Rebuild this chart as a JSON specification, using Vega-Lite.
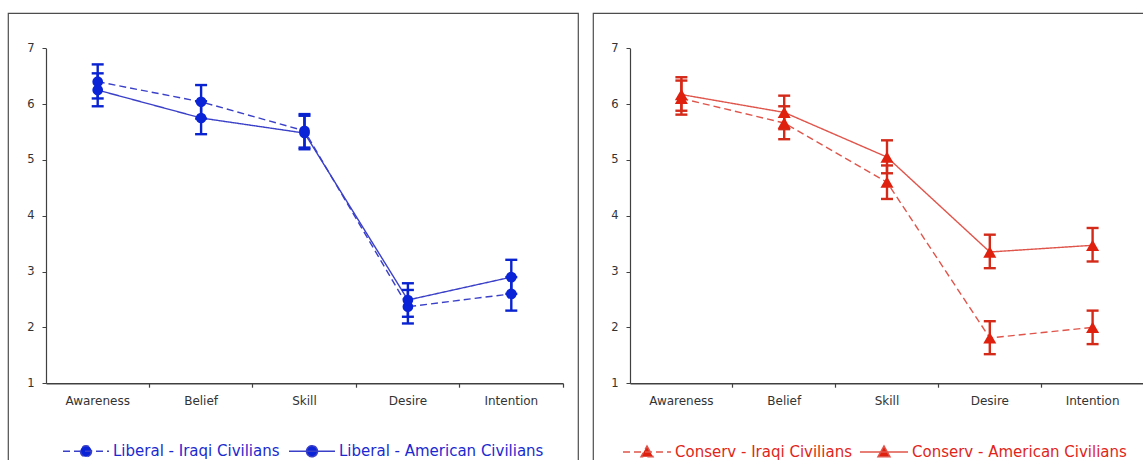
{
  "$schema": "https://vega.github.io/schema/vega-lite/v6.json",
  "padding": {"left": 7, "top": 12, "right": 0, "bottom": 0},
  "spacing": 13,
  "config": {
    "view": {"stroke": "#4d4d4d", "strokeWidth": 1.2},
    "font": "DejaVu Sans",
    "axisY": {"orient": "left", "title": null, "grid": false, "tickSize": 4, "tickColor": "#404040", "domainColor": "#404040", "domainWidth": 1.2, "labelFontSize": 11.5, "labelColor": "#333333", "labelPadding": 8, "labelFont": "DejaVu Sans", "format": "d"}
  },
  "resolve": {"scale": {"color": "independent", "strokeDash": "independent"}, "legend": {"color": "independent", "strokeDash": "independent"}},
  "hconcat": [
    {
      "width": 570,
      "height": 452,
      "data": {"values": [
        {"group": "Liberal - Iraqi Civilians", "category": "Awareness", "mean": 6.40, "lo": 6.10, "hi": 6.71},
        {"group": "Liberal - Iraqi Civilians", "category": "Belief", "mean": 6.04, "lo": 5.74, "hi": 6.34},
        {"group": "Liberal - Iraqi Civilians", "category": "Skill", "mean": 5.52, "lo": 5.22, "hi": 5.82},
        {"group": "Liberal - Iraqi Civilians", "category": "Desire", "mean": 2.37, "lo": 2.07, "hi": 2.67},
        {"group": "Liberal - Iraqi Civilians", "category": "Intention", "mean": 2.60, "lo": 2.30, "hi": 2.90},
        {"group": "Liberal - American Civilians", "category": "Awareness", "mean": 6.25, "lo": 5.96, "hi": 6.55},
        {"group": "Liberal - American Civilians", "category": "Belief", "mean": 5.75, "lo": 5.46, "hi": 6.05},
        {"group": "Liberal - American Civilians", "category": "Skill", "mean": 5.48, "lo": 5.19, "hi": 5.79},
        {"group": "Liberal - American Civilians", "category": "Desire", "mean": 2.49, "lo": 2.19, "hi": 2.79},
        {"group": "Liberal - American Civilians", "category": "Intention", "mean": 2.90, "lo": 2.60, "hi": 3.21}
      ]},
      "layer": [
        {
          "mark": {"type": "line", "strokeWidth": 1.4},
          "encoding": {
            "x": {"field": "category", "type": "nominal",
              "scale": {"domain": ["Awareness", "Belief", "Skill", "Desire", "Intention"], "range": [38, 555], "paddingInner": 0, "paddingOuter": 0},
              "axis": {"orient": "bottom", "offset": -81.8, "title": null, "ticks": false, "domain": false, "labelAngle": 0, "labelFontSize": 12, "labelColor": "#333333", "labelFont": "DejaVu Sans", "labelPadding": 12, "bandPosition": 0.5}},
            "y": {"field": "mean", "type": "quantitative",
              "scale": {"domain": [1, 7], "range": [370.2, 35.2], "nice": false, "zero": false},
              "axis": {"offset": -38, "values": [1, 2, 3, 4, 5, 6, 7]}},
            "color": {"field": "group", "type": "nominal",
              "scale": {"domain": ["Liberal - Iraqi Civilians", "Liberal - American Civilians"], "range": ["#3b40c8", "#3b40c8"]},
              "legend": {"orient": "none", "legendX": 54, "legendY": 414, "direction": "horizontal", "title": null,
                "symbolType": "M-1,0H1M0.239,0A0.239,0.239,0,1,1,-0.239,0A0.239,0.239,0,1,1,0.239,0Z",
                "symbolSize": 2116, "labelFontSize": 15, "labelFont": "DejaVu Sans", "labelColor": "#1a2ad0", "labelOffset": 3, "labelLimit": 400, "columnPadding": 6, "symbolStrokeWidth": 1.5,
                "encode": {"symbols": {"update": {
                  "fill": {"value": "#0a23d6"},
                  "stroke": {"value": "#2a33cc"},
                  "strokeDash": {"signal": "datum.value === 'Liberal - Iraqi Civilians' ? [6, 4] : [1, 0]"}
                }}}}},
            "strokeDash": {"field": "group", "type": "nominal",
              "scale": {"domain": ["Liberal - Iraqi Civilians", "Liberal - American Civilians"], "range": [[7, 4], [1, 0]]},
              "legend": null}
          }
        },
        {
          "mark": {"type": "rule", "strokeWidth": 2.4, "color": "#0a23d0", "opacity": 1},
          "encoding": {
            "x": {"field": "category", "type": "nominal", "axis": null},
            "y": {"field": "lo", "type": "quantitative", "axis": {"offset": -38, "values": [1, 2, 3, 4, 5, 6, 7]}},
            "y2": {"field": "hi"}
          }
        },
        {
          "mark": {"type": "tick", "size": 12, "thickness": 2.4, "color": "#0a23d0", "opacity": 1},
          "encoding": {
            "x": {"field": "category", "type": "nominal", "axis": null},
            "y": {"field": "lo", "type": "quantitative", "axis": {"offset": -38, "values": [1, 2, 3, 4, 5, 6, 7]}}
          }
        },
        {
          "mark": {"type": "tick", "size": 12, "thickness": 2.4, "color": "#0a23d0", "opacity": 1},
          "encoding": {
            "x": {"field": "category", "type": "nominal", "axis": null},
            "y": {"field": "hi", "type": "quantitative", "axis": {"offset": -38, "values": [1, 2, 3, 4, 5, 6, 7]}}
          }
        },
        {
          "mark": {"type": "point", "shape": "circle", "filled": true, "size": 115, "opacity": 1, "color": "#0a23d6"},
          "encoding": {
            "x": {"field": "category", "type": "nominal",
              "axis": {"orient": "bottom", "offset": -81.8, "title": null, "labels": false, "ticks": true, "tickSize": 4, "tickColor": "#404040", "tickWidth": 1.2, "domain": true, "domainColor": "#404040", "domainWidth": 1.6, "bandPosition": 1}},
            "y": {"field": "mean", "type": "quantitative", "axis": {"offset": -38, "values": [1, 2, 3, 4, 5, 6, 7]}}
          }
        }
      ],
      "resolve": {"axis": {"x": "independent"}}
    },
    {
      "width": 554,
      "height": 452,
      "data": {"values": [
        {"group": "Conserv - Iraqi Civilians", "category": "Awareness", "mean": 6.10, "lo": 5.81, "hi": 6.42},
        {"group": "Conserv - Iraqi Civilians", "category": "Belief", "mean": 5.66, "lo": 5.37, "hi": 5.96},
        {"group": "Conserv - Iraqi Civilians", "category": "Skill", "mean": 4.60, "lo": 4.30, "hi": 4.90},
        {"group": "Conserv - Iraqi Civilians", "category": "Desire", "mean": 1.81, "lo": 1.52, "hi": 2.11},
        {"group": "Conserv - Iraqi Civilians", "category": "Intention", "mean": 2.00, "lo": 1.70, "hi": 2.30},
        {"group": "Conserv - American Civilians", "category": "Awareness", "mean": 6.17, "lo": 5.88, "hi": 6.48},
        {"group": "Conserv - American Civilians", "category": "Belief", "mean": 5.85, "lo": 5.55, "hi": 6.15},
        {"group": "Conserv - American Civilians", "category": "Skill", "mean": 5.05, "lo": 4.76, "hi": 5.35},
        {"group": "Conserv - American Civilians", "category": "Desire", "mean": 3.35, "lo": 3.06, "hi": 3.66},
        {"group": "Conserv - American Civilians", "category": "Intention", "mean": 3.47, "lo": 3.18, "hi": 3.78}
      ]},
      "layer": [
        {
          "mark": {"type": "line", "strokeWidth": 1.4},
          "encoding": {
            "x": {"field": "category", "type": "nominal",
              "scale": {"domain": ["Awareness", "Belief", "Skill", "Desire", "Intention"], "range": [37, 551], "paddingInner": 0, "paddingOuter": 0},
              "axis": {"orient": "bottom", "offset": -81.8, "title": null, "ticks": false, "domain": false, "labelAngle": 0, "labelFontSize": 12, "labelColor": "#333333", "labelFont": "DejaVu Sans", "labelPadding": 12, "bandPosition": 0.5}},
            "y": {"field": "mean", "type": "quantitative",
              "scale": {"domain": [1, 7], "range": [370.2, 35.2], "nice": false, "zero": false},
              "axis": {"offset": -37, "values": [1, 2, 3, 4, 5, 6, 7]}},
            "color": {"field": "group", "type": "nominal",
              "scale": {"domain": ["Conserv - Iraqi Civilians", "Conserv - American Civilians"], "range": ["#e0554b", "#e0554b"]},
              "legend": {"orient": "none", "legendX": 29, "legendY": 414, "direction": "horizontal", "title": null,
                "symbolType": "M-1,0H1M0,-0.25L0.25,0.2L-0.25,0.2Z",
                "symbolSize": 2304, "labelFontSize": 15, "labelFont": "DejaVu Sans", "labelColor": "#e0261a", "labelOffset": 3, "labelLimit": 400, "columnPadding": 5, "symbolStrokeWidth": 1.5,
                "encode": {"symbols": {"update": {
                  "fill": {"value": "#e0200e"},
                  "stroke": {"value": "#e03a2a"},
                  "strokeDash": {"signal": "datum.value === 'Conserv - Iraqi Civilians' ? [6, 4] : [1, 0]"}
                }}}}},
            "strokeDash": {"field": "group", "type": "nominal",
              "scale": {"domain": ["Conserv - Iraqi Civilians", "Conserv - American Civilians"], "range": [[7, 4], [1, 0]]},
              "legend": null}
          }
        },
        {
          "mark": {"type": "rule", "strokeWidth": 2.4, "color": "#d42a1a", "opacity": 1},
          "encoding": {
            "x": {"field": "category", "type": "nominal", "axis": null},
            "y": {"field": "lo", "type": "quantitative", "axis": {"offset": -37, "values": [1, 2, 3, 4, 5, 6, 7]}},
            "y2": {"field": "hi"}
          }
        },
        {
          "mark": {"type": "tick", "size": 12, "thickness": 2.4, "color": "#d42a1a", "opacity": 1},
          "encoding": {
            "x": {"field": "category", "type": "nominal", "axis": null},
            "y": {"field": "lo", "type": "quantitative", "axis": {"offset": -37, "values": [1, 2, 3, 4, 5, 6, 7]}}
          }
        },
        {
          "mark": {"type": "tick", "size": 12, "thickness": 2.4, "color": "#d42a1a", "opacity": 1},
          "encoding": {
            "x": {"field": "category", "type": "nominal", "axis": null},
            "y": {"field": "hi", "type": "quantitative", "axis": {"offset": -37, "values": [1, 2, 3, 4, 5, 6, 7]}}
          }
        },
        {
          "mark": {"type": "point", "shape": "triangle-up", "filled": true, "size": 170, "opacity": 1, "color": "#e0200e"},
          "encoding": {
            "x": {"field": "category", "type": "nominal",
              "axis": {"orient": "bottom", "offset": -81.8, "title": null, "labels": false, "ticks": true, "tickSize": 4, "tickColor": "#404040", "tickWidth": 1.2, "domain": true, "domainColor": "#404040", "domainWidth": 1.6, "bandPosition": 1}},
            "y": {"field": "mean", "type": "quantitative", "axis": {"offset": -37, "values": [1, 2, 3, 4, 5, 6, 7]}}
          }
        }
      ],
      "resolve": {"axis": {"x": "independent"}}
    }
  ]
}
